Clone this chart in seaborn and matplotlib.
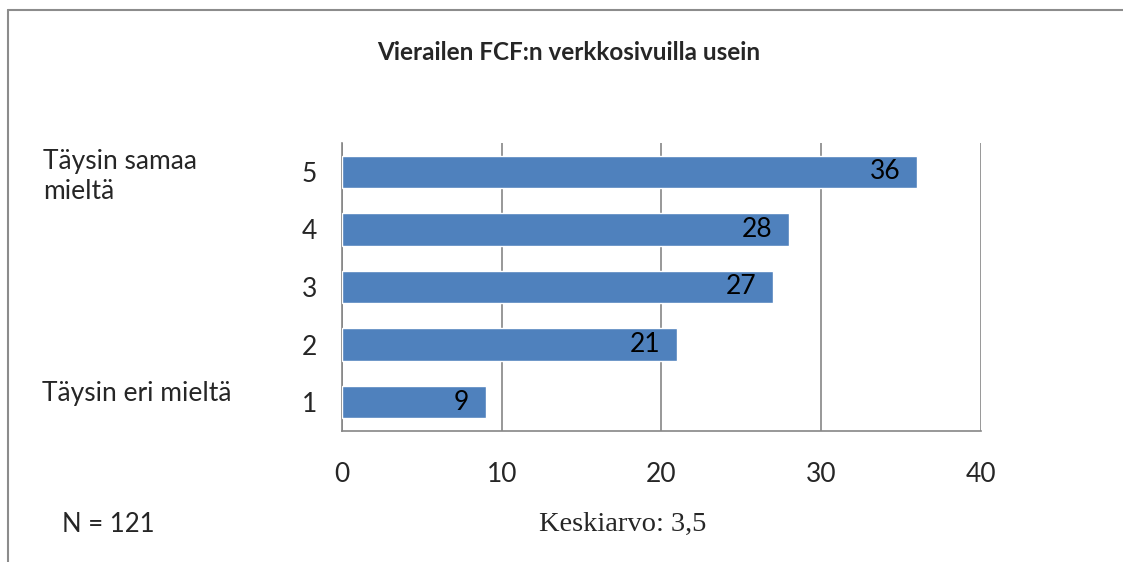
import matplotlib
matplotlib.use("Agg")
import matplotlib.pyplot as plt
import seaborn as sns
import pandas as pd
from matplotlib.lines import Line2D

# data
vastaukset = ["5", "4", "3", "2", "1"]
maarat = [36, 28, 27, 21, 9]
x_ticks = [0, 10, 20, 30, 40]

df = pd.DataFrame({"vastaus": vastaukset, "maara": maarat})

sns.set_theme(style="white")
plt.rcParams["font.family"] = ["Lato", "DejaVu Sans"]

fig = plt.figure(figsize=(11.23, 5.62), dpi=100)
ax = fig.add_axes([0.3045, 0.2331, 0.569, 0.5125])

sns.barplot(data=df, x="maara", y="vastaus", order=vastaukset, orient="h",
            color="#4F81BD", saturation=1, width=0.56, ax=ax, zorder=3)

ax.set_xlim(0, 40)
ax.set_xticks(x_ticks)
ax.xaxis.grid(True, color="#868686", linewidth=1.2, zorder=0)
ax.set_axisbelow(True)
ax.set_xlabel("")
ax.set_ylabel("")
ax.tick_params(axis="x", length=0, pad=22, labelsize=19)
ax.tick_params(axis="y", length=0, pad=18, labelsize=19)
for s in ["top", "right"]:
    ax.spines[s].set_visible(False)
for s in ["left", "bottom"]:
    ax.spines[s].set_color("#868686")
    ax.spines[s].set_linewidth(1.2)

for cont in ax.containers:
    tekstit = ax.bar_label(cont, labels=[str(v) for v in maarat], label_type="edge",
                           padding=-12, fontsize=19, color="black")
    for t in tekstit:
        t.set_ha("right")

fig.text(0.506, 0.906, "Vierailen FCF:n verkkosivuilla usein", ha="center",
         va="center", fontsize=17.5, fontweight="bold")
fig.text(0.038, 0.686, "Täysin samaa\nmieltä", ha="left", va="center",
         fontsize=19, linespacing=1.25)
fig.text(0.037, 0.3, "Täysin eri mieltä", ha="left", va="center", fontsize=19)
fig.text(0.055, 0.067, "N = 121", ha="left", va="center", fontsize=18.5)
fig.text(0.48, 0.067, "Keskiarvo: 3,5", ha="left", va="center", fontsize=20.5,
         family="Liberation Serif")

# outer frame (left and top edge only)
fig.add_artist(Line2D([8 / 1123, 8 / 1123], [0, 552 / 562], color="#8c8c8c", linewidth=1.5))
fig.add_artist(Line2D([8 / 1123, 1], [552 / 562, 552 / 562], color="#8c8c8c", linewidth=1.5))

fig.savefig("out.png", dpi=100)
